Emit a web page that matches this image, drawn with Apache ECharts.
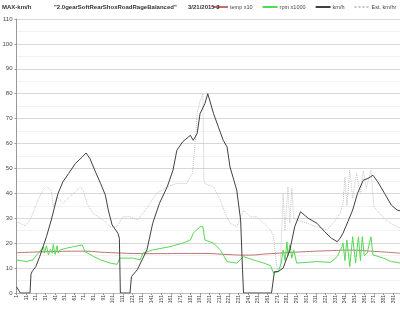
<!DOCTYPE html>
<html><head><meta charset="utf-8">
<script src="https://cdn.jsdelivr.net/npm/echarts@6/dist/echarts.min.js"></script>
<style>html,body{margin:0;padding:0;background:#fff}#c{width:400px;height:309px}</style>
</head><body><div id="c"></div>
<script>
// x = sample index (seconds, 1/10th), y = value
const kmhX = [1,3,5,15,16,17,21,25,32,37,44,49,55,62,69,73,77,82,88,93,96,100,101,106,107.5,108.5,118.5,120,121,126,131,136,142,149,157,163,167,173,181,184,188,191,196,199,205,210,215,219,222,226,229,233,235,236,265,268,272,277,284,289,295,296,303,312,320,327,333,336,339,344,349,354,360,365,370,375,382,389,395,398];
const kmhY = [2.5,2.5,0,0,7.5,8.5,10.6,14.6,22.6,29.3,40,44.6,48,52,54.6,56.2,54,49.3,44,39.3,33.3,27.3,26.5,24,22,0,0,6.6,6.9,9.3,13.3,17.3,28,36,42.6,49.3,57.3,60.7,63.3,61.3,64,72,76,80,72,66.6,61.3,58.6,50.6,45.3,41.3,29.3,9.3,0,0,8.6,8.6,10,17.3,26.6,32.6,33.3,30,28,24.6,22,20.6,22,24,28.6,33.3,40,45.3,46,47.3,44.6,40,35.3,33.3,33];

const estX = [1,5,10,15,22,28,32,37,39,43,49,56,67,70,74,80,91,98,105,111,119,126,132,139,146,157,167,177,183,186,188,191,194,195,196,205,212,217,222,229,236,243,250,257,264,267,271,274,277,279,282,284,286,288,291,302,312,322,329,336,339,341,343,346,349,353,357,360,363,368,371,380,388,395,398];
const estY = [28.5,28,27,29.3,36,41.3,42.6,41.3,34.6,38.6,36,38.6,42.6,41.3,36,32,29.3,26.6,26.6,30.6,30.6,29.3,32,36,40,42.6,44,44,48,60,72,77,80,45,44,42.6,37.3,32,28,26.6,33.3,30.6,30.6,28,25.3,22.6,9.3,10,40,25,42.6,28,42,30,29.3,28,26.6,25.3,28,32,36,46.6,35,49.3,38,48,40,49,42,49.3,34.6,30.6,28,26.6,26];

const rpmX = [1,11,18,22,25,29,30,32,34,36,38,39,41,43,44,46,53,60,69,72,81,88,98,105,108,115,122,129,132,142,160,173,181,184,191,194,196,205,212,219,229,236,246,257,264,267,272,275,277,279,281,282,284,286,288,291,312,326,333,338,339,341,343,346,349,352,355,357,359,361,364,368,370,381,389,395,398];
const rpmY = [13.3,12.6,13.3,15.3,16.6,18.6,16,19,15.3,17.5,16,19.5,15.5,19,16,17.3,18,18.6,19.3,16.6,14.6,13.3,12,11.5,14,14,14,13.3,16,17.3,18.6,20,21.3,24,26.6,26.6,21.3,20,17.3,12.6,12,14.6,13.3,12,11,8,8.6,12,17.3,13,20.5,15,19.3,14,17.3,12,12.6,12.3,14.6,18.6,20,13,21.3,10.6,22.6,12,22.6,13,22.6,15,16,22.6,15.3,14,12.6,12.3,12];

const tempX = [1,36,67,98,139,191,222,238,264,295,326,346,372,398];
const tempY = [16.2,16.6,16.8,16.2,15.8,15.9,15.4,15.2,15.8,16.5,17.0,17.2,16.7,16.0];

const seriesNames = ['temp x10','rpm x1000','km/h','Est. km/hr'];
const titleParts = ['MAX-km/h', '"2.0gearSoftRearShoxRoadRageBalanced"', '3/21/2015 3'];
const xName = 'seconds (1/10th)';

function pairs(xs, ys){ return xs.map((x,i)=>[x, ys[i]]); }

const chart = echarts.init(document.getElementById('c'));
const F = 'Liberation Sans, Arial, sans-serif';
const tStyle = {fontSize:6,fontWeight:'bold',color:'#333',fontFamily:F};
const titleLefts = [2, 54, 188];
chart.setOption({
  animation:false,
  backgroundColor:'#fff',
  textStyle:{fontFamily:F},
  title:titleParts.map((t,i)=>({text:t,left:titleLefts[i],top:4,padding:0,textStyle:tStyle})),
  legend:{top:4,left:212,width:240,padding:0,itemWidth:15,itemHeight:6,itemGap:9,backgroundColor:'#fff',
    itemStyle:{opacity:0},
    textStyle:{fontSize:5.5,color:'#444',fontFamily:F,padding:[0,0,0,-3]},data:seriesNames},
  grid:{left:16.5,right:0,top:19,bottom:16,containLabel:false,outerBoundsMode:'none'},
  xAxis:{type:'value',min:1,max:398,interval:10,
    name:xName,nameLocation:'middle',nameGap:9,
    nameTextStyle:{fontSize:7,fontWeight:'bold',color:'#333',backgroundColor:'#fff',padding:[0,2]},
    axisLine:{lineStyle:{color:'#999'}},
    axisTick:{show:true,length:2,lineStyle:{color:'#999'}},
    minorTick:{show:true,splitNumber:10,length:1,lineStyle:{color:'#bbb'}},
    axisLabel:{rotate:90,fontSize:5,color:'#444',margin:2,showMaxLabel:false},
    splitLine:{show:false}},
  yAxis:{type:'value',min:0,max:110,interval:10,
    axisLine:{show:true,lineStyle:{color:'#999'}},
    axisTick:{show:true,length:2,lineStyle:{color:'#999'}},
    axisLabel:{fontSize:6,color:'#444',margin:4},
    splitLine:{lineStyle:{color:'#d8d8d8',width:1}},
    minorTick:{show:false,splitNumber:2},
    minorSplitLine:{show:true,lineStyle:{color:'#e4e4e4',type:'dotted'}}},
  series:[
    {name:seriesNames[0],type:'line',symbol:'none',data:pairs(tempX,tempY),smooth:true,
      lineStyle:{color:'#c07070',width:1},itemStyle:{color:'#c07070'},z:3},
    {name:seriesNames[1],type:'line',symbol:'none',data:pairs(rpmX,rpmY),
      lineStyle:{color:'#55d855',width:1},itemStyle:{color:'#55d855'},z:4},
    {name:seriesNames[2],type:'line',symbol:'none',data:pairs(kmhX,kmhY),
      lineStyle:{color:'#404040',width:1},itemStyle:{color:'#404040'},z:5},
    {name:seriesNames[3],type:'line',symbol:'none',data:pairs(estX,estY),
      lineStyle:{color:'#c4c4c4',width:1,type:'dotted'},itemStyle:{color:'#c4c4c4'},z:2}
  ]
});
</script></body></html>
